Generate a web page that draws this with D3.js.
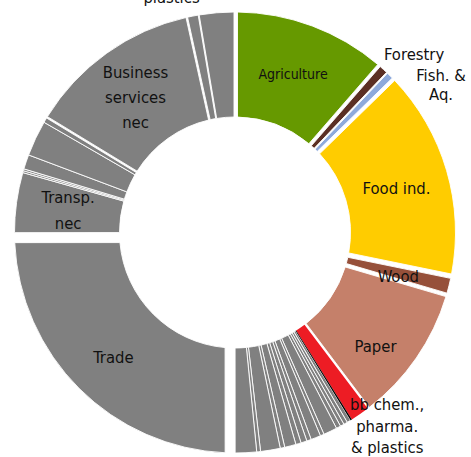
<!DOCTYPE html>
<html>
<head>
<meta charset="utf-8">
<script src="https://cdn.jsdelivr.net/npm/d3@7"></script>
<style>
  html, body { margin: 0; padding: 0; background: #fff; }
  svg { display: block; }
  text {
    font-family: "DejaVu Sans Condensed", "DejaVu Sans", sans-serif;
    font-stretch: condensed;
    fill: #111111;
  }
</style>
</head>
<body>
<svg id="chart" width="471" height="457"></svg>
<script>
// Sectors in clockwise order from 12 o'clock, with their share of the total (%)
const sectors = [
  "Agriculture", "Forestry", "Fish. & Aq.", "Food ind.", "Wood", "Paper",
  "bb chem., pharma. & plastics", "Bio-based textiles",
  "Mfg 01", "Mfg 02", "Mfg 03", "Mfg 04", "Mfg 05", "Mfg 06", "Mfg 07", "Mfg 08",
  "Mfg 09", "Mfg 10", "Mfg 11", "Mfg 12", "Mfg 13", "Mfg 14", "Mfg 15",
  "Trade", "Transp. nec",
  "Transport 01", "Transport 02", "Transport 03", "Services 01", "Services 02",
  "Business services nec", "Rubber & plastics", "Services 03"
];
const shares = [
  11.39, 0.72, 0.58, 15.53, 1.33, 10.17,
  1.39, 0.11,
  0.28, 0.28, 0.28, 0.33, 1.00, 0.28, 0.72, 0.33,
  0.44, 0.39, 0.83, 0.33, 1.44, 0.28, 1.56,
  25.00, 4.39,
  0.14, 0.14, 1.06, 2.61, 0.36,
  12.86, 0.78, 2.67
];

// Labels drawn for some sectors (one entry per text line)
const labelSectors = [
  "Agriculture", "Forestry", "Fish. & Aq.", "Food ind.", "Wood", "Paper",
  "bb chem., pharma. & plastics", "Trade", "Transp. nec",
  "Business services nec", "Rubber & plastics"
];
const labelLines = [
  ["Agriculture"], ["Forestry"], ["Fish. &", "Aq."], ["Food ind."], ["Wood"], ["Paper"],
  ["bb chem.,", "pharma.", "& plastics"], ["Trade"], ["Transp.", "nec"],
  ["Business", "services", "nec"], ["plastics"]
];

// ---- styling / layout ----
const palette = {
  "Agriculture": "#669900",
  "Forestry": "#5b2f24",
  "Fish. & Aq.": "#8eaadc",
  "Food ind.": "#ffcc00",
  "Wood": "#96503a",
  "Paper": "#c5806a",
  "bb chem., pharma. & plastics": "#ed1c24",
  "Bio-based textiles": "#000000"
};
const otherColor = "#808080";
// sectors drawn flush, without a white outline
const flush = new Set(["bb chem., pharma. & plastics", "Bio-based textiles"]);
// half-width (px) of the white gap cut along each side of a slice
const gapInset = {
  "Agriculture": 2.5, "Forestry": 0.7, "Fish. & Aq.": 0.6, "Food ind.": 2.8,
  "Wood": 1.6, "Paper": 2.0, "Trade": 10, "Business services nec": 1.6,
  "Services 03": 1.0
};
// label placement: offset from the slice centroid, font size, line height
const labelLayout = {
  "Agriculture": { dx: -0.8, dy: -1, size: 14, lh: 18 },
  "Forestry": { dx: 66, dy: -54, size: 16.5, lh: 20 },
  "Fish. & Aq.": { dx: 88, dy: -28.4, size: 16.5, lh: 19.5 },
  "Food ind.": { dx: 0.3, dy: 3.5, size: 16.5, lh: 20 },
  "Wood": { dx: 0.3, dy: 2.9, size: 16.5, lh: 20 },
  "Paper": { dx: 2.4, dy: 18, size: 16.5, lh: 20 },
  "bb chem., pharma. & plastics": { dx: 57, dy: 55, size: 16.5, lh: 21.7 },
  "Trade": { dx: -2.9, dy: 6.2, size: 16.5, lh: 20 },
  "Transp. nec": { dx: -0.5, dy: 0.8, size: 16.5, lh: 26 },
  "Business services nec": { dx: -1.8, dy: 1.7, size: 16.5, lh: 25 },
  "Rubber & plastics": { dx: -31.4, dy: -70.4, size: 16.5, lh: 20 }
};

const width = 471, height = 457;
const cx = 235, cy = 232.5;
const rOuter = 220.5, rInner = 115.5;

const data = sectors.map((s, i) => ({ sector: s, share: shares[i] }));

const pie = d3.pie().sort(null).value(d => d.share);
const arcs = pie(data);
arcs.forEach(a => {
  const s = gapInset[a.data.sector] || 0;
  a.padAngle = 2 * Math.asin(s / rOuter);
});

const arc = d3.arc()
  .innerRadius(rInner)
  .outerRadius(rOuter)
  .padRadius(rOuter);

const svg = d3.select("#chart");
const g = svg.append("g").attr("transform", `translate(${cx},${cy})`);

const slices = g.selectAll("path.slice")
  .data(arcs)
  .join("path")
  .attr("class", "slice")
  .attr("d", arc)
  .attr("fill", d => palette[d.data.sector] || otherColor)
  .attr("stroke", d => flush.has(d.data.sector) ? "none" : "#ffffff")
  .attr("stroke-width", 0.9)
  .attr("stroke-linejoin", "miter");

// flush slices sit on top of neighbouring outlines
slices.filter(d => flush.has(d.data.sector)).raise();

// labels
const labels = g.append("g").attr("class", "labels");
labelSectors.forEach((name, i) => {
  const a = arcs.find(d => d.data.sector === name);
  if (!a) return;
  const lay = labelLayout[name];
  const [mx, my] = arc.centroid(a);
  const x = mx + lay.dx, y = my + lay.dy;
  const lines = labelLines[i];
  const t = labels.append("text")
    .attr("text-anchor", "middle")
    .attr("font-size", lay.size);
  lines.forEach((ln, k) => {
    const base = y + (k - (lines.length - 1) / 2) * lay.lh + 0.35 * lay.size;
    t.append("tspan").attr("x", x).attr("y", base).text(ln);
  });
});
</script>
</body>
</html>
